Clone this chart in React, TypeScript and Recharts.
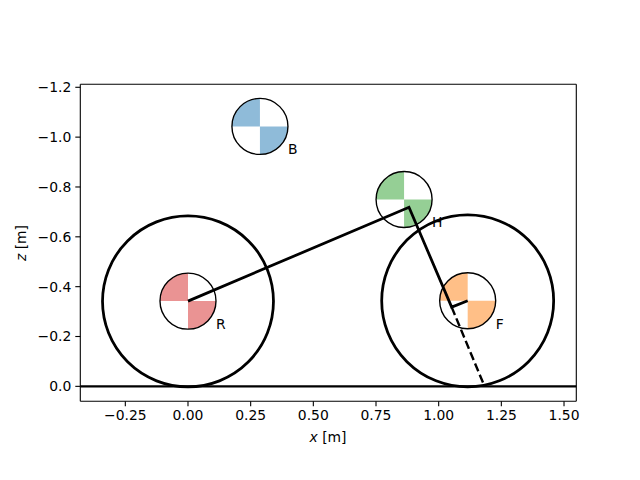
import { ScatterChart, Scatter, XAxis, YAxis, ReferenceLine, Label } from 'recharts'

const xTicks = [-0.25, 0, 0.25, 0.5, 0.75, 1, 1.25, 1.5]
const zTicks = [-1.2, -1, -0.8, -0.6, -0.4, -0.2, 0]
const xDomain = [-0.4296, 1.549]
const zDomain = [-1.212, 0.06]

const masses = [
  { x: 0, y: -0.342, r: 0.1117, name: 'R', color: '#ea9393' },
  { x: 0.287, y: -1.043, r: 0.1117, name: 'B', color: '#8fbbd9' },
  { x: 0.862, y: -0.75, r: 0.1117, name: 'H', color: '#95cf95' },
  { x: 1.1157, y: -0.3435, r: 0.1117, name: 'F', color: '#ffbf87' },
]
const wheels = [
  { x: 0, y: -0.341, r: 0.341 },
  { x: 1.1157, y: -0.343, r: 0.343 },
]
const frame = [
  { x: 0, y: -0.342 },
  { x: 0.8816, y: -0.7186 },
  { x: 1.0518, y: -0.318 },
  { x: 1.1157, y: -0.3435 },
]
const fork = [
  { x: 1.0518, y: -0.318 },
  { x: 1.183, y: 0 },
]

const W = 640
const H = 480
const M = { left: 80.3, right: 63.7, top: 84.3, bottom: 78.7 }
const pxPerUnit = (W - M.left - M.right) / (xDomain[1] - xDomain[0])

const fmtX = (v: number) => v.toFixed(2).replace('-', '\u2212')
const fmtZ = (v: number) => v.toFixed(1).replace('-', '\u2212')
const font = 'DejaVu Sans'
const tick = { fontSize: 13.9, fill: '#000', fontFamily: font }

function MassMarker({ cx, cy, payload }: any) {
  const r = payload.r * pxPerUnit
  return (
    <g>
      <circle cx={cx} cy={cy} r={r} fill="#fff" />
      <path d={`M${cx},${cy} L${cx - r},${cy} A${r},${r} 0 0 1 ${cx},${cy - r} Z`} fill={payload.color} />
      <path d={`M${cx},${cy} L${cx + r},${cy} A${r},${r} 0 0 1 ${cx},${cy + r} Z`} fill={payload.color} />
      <circle cx={cx} cy={cy} r={r} fill="none" stroke="#000" strokeWidth={1.39} />
      <text x={cx + r} y={cy + r} fontSize={13.9} fontFamily={font} fill="#000" opacity={0.99}>
        {payload.name}
      </text>
    </g>
  )
}

function WheelMarker({ cx, cy, payload }: any) {
  return <circle cx={cx} cy={cy} r={payload.r * pxPerUnit} fill="none" stroke="#000" strokeWidth={2.78} />
}

const noMarker = () => <g />

export default function App() {
  return (
    <div style={{ position: 'absolute', left: 0, top: 0, width: W, height: H, background: '#fff' }}>
      <ScatterChart width={W} height={H} margin={{ left: 0, right: M.right, top: M.top, bottom: 0 }}>
        <XAxis
          type="number"
          dataKey="x"
          domain={xDomain}
          ticks={xTicks}
          tickFormatter={fmtX}
          allowDataOverflow
          height={M.bottom}
          interval={0}
          tick={tick}
          tickSize={5}
          tickMargin={4}
          stroke="#000"
          strokeWidth={1.1}
        >
          <Label
            content={() => (
              <text x={328} y={442} textAnchor="middle" fontSize={13.9} fontFamily={font} fill="#000">
                <tspan fontStyle="italic">x</tspan> [m]
              </text>
            )}
          />
        </XAxis>
        <YAxis
          type="number"
          dataKey="y"
          domain={zDomain}
          ticks={zTicks}
          tickFormatter={fmtZ}
          allowDataOverflow
          reversed
          width={M.left}
          interval={0}
          tick={tick}
          tickSize={5}
          tickMargin={4}
          stroke="#000"
          strokeWidth={1.1}
        >
          <Label
            content={() => (
              <text
                x={26}
                y={243}
                textAnchor="middle"
                fontSize={13.9}
                fontFamily={font}
                fill="#000"
                transform="rotate(-90 26 243)"
              >
                <tspan fontStyle="italic">z</tspan> [m]
              </text>
            )}
          />
        </YAxis>
        <ReferenceLine x={xDomain[1]} stroke="#000" strokeWidth={1.1} />
        <ReferenceLine y={zDomain[0]} stroke="#000" strokeWidth={1.1} />
        <Scatter data={masses} shape={MassMarker} isAnimationActive={false} />
        <Scatter data={wheels} shape={WheelMarker} isAnimationActive={false} />
        <Scatter
          data={frame}
          shape={noMarker}
          line={{ stroke: '#000', strokeWidth: 2.78 }}
          isAnimationActive={false}
        />
        <Scatter
          data={fork}
          shape={noMarker}
          line={{ stroke: '#000', strokeWidth: 2.4, strokeDasharray: '8.5 3.7' }}
          isAnimationActive={false}
        />
        <ReferenceLine y={0} stroke="#000" strokeWidth={2.4} />
      </ScatterChart>
    </div>
  )
}
